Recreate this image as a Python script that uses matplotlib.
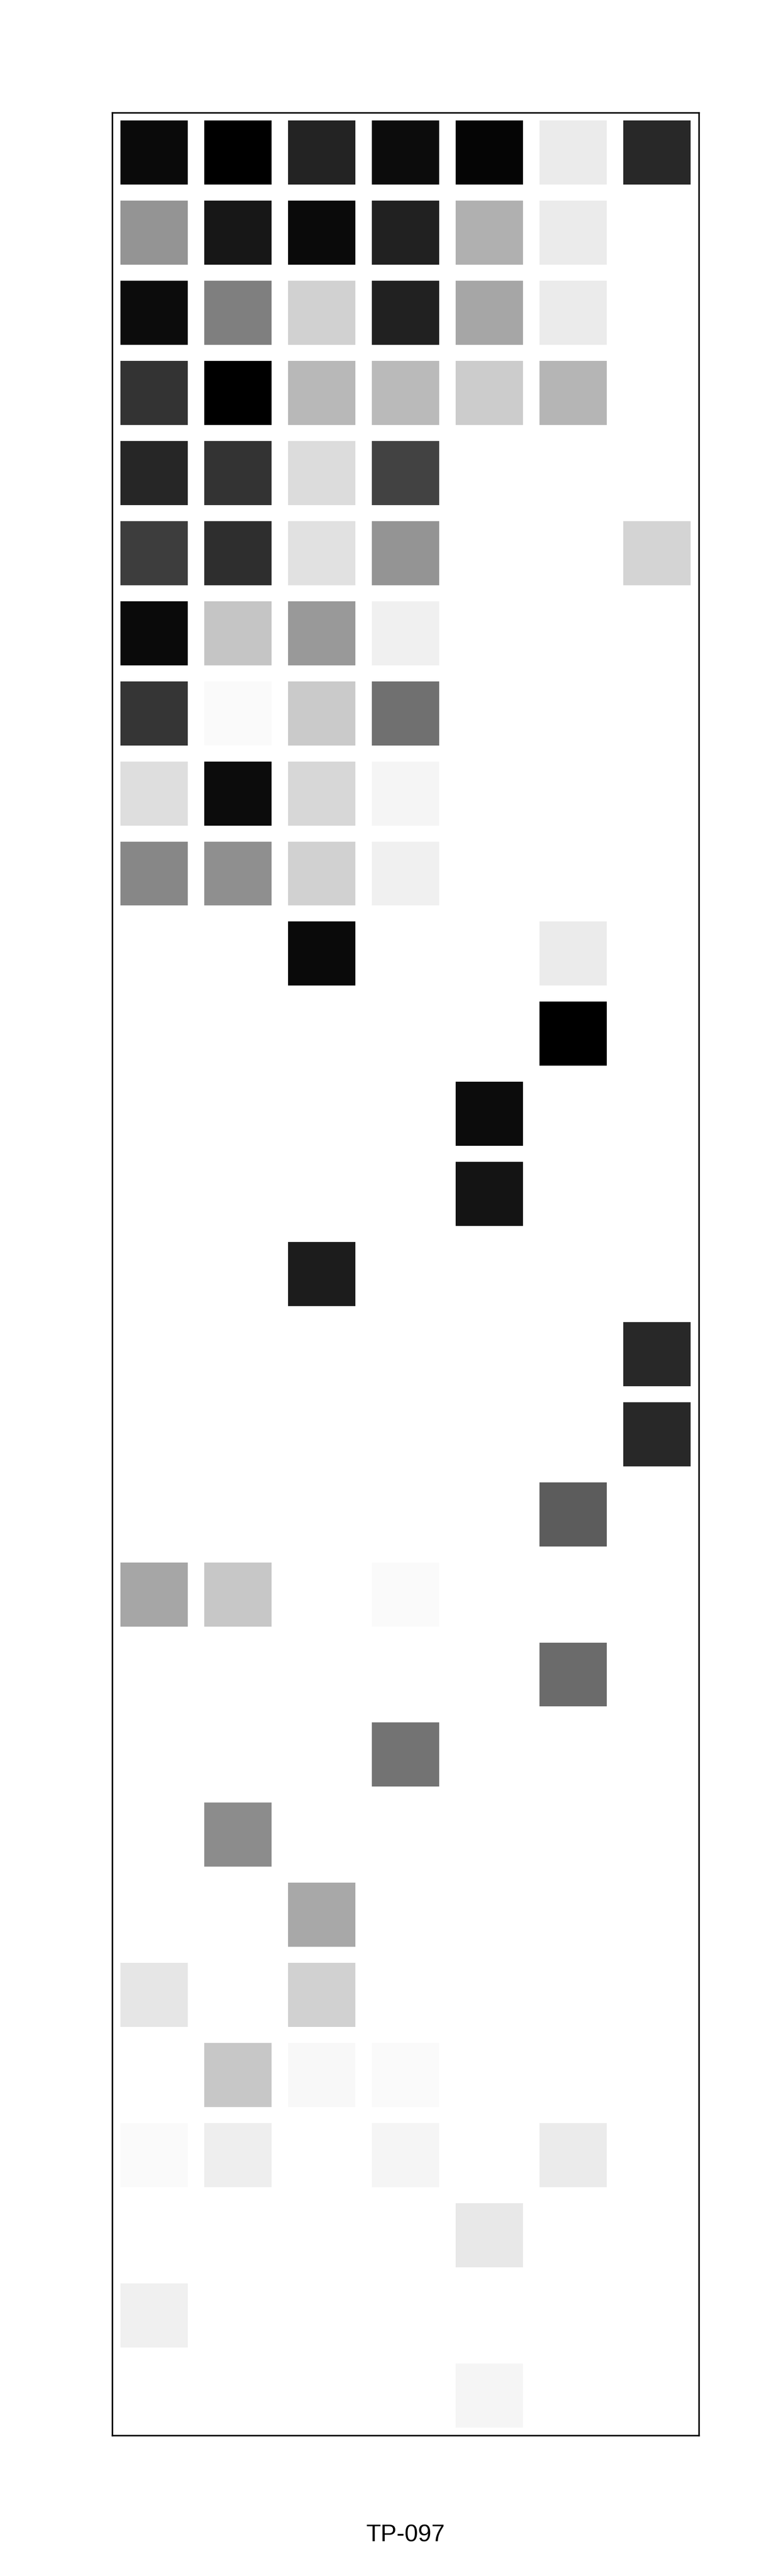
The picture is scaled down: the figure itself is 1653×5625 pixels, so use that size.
import numpy as np
import matplotlib
matplotlib.use("Agg")
import matplotlib.pyplot as plt

plt.rcParams['font.family'] = ['Liberation Sans', 'DejaVu Sans']

# darkness of each cell (0 = white, 1 = black), one list per column, rows top to bottom
col_1 = [.96, .42, .95, .80, .85, .76, .96, .79, .13, .47, 0, 0, 0, 0, 0, 0, 0, 0, .35, 0, 0, 0, 0, .10, 0, .02, 0, .06, 0]
col_2 = [1.0, .91, .50, 1.0, .80, .82, .23, .02, .95, .44, 0, 0, 0, 0, 0, 0, 0, 0, .22, 0, 0, .45, 0, 0, .22, .07, 0, 0, 0]
col_3 = [.86, .96, .18, .28, .14, .12, .40, .21, .16, .18, .96, 0, 0, 0, .89, 0, 0, 0, 0, 0, 0, 0, .34, .18, .03, 0, 0, 0, 0]
col_4 = [.95, .87, .87, .27, .74, .42, .06, .56, .04, .06, 0, 0, 0, 0, 0, 0, 0, 0, .02, 0, .55, 0, 0, 0, .02, .04, 0, 0, 0]
col_5 = [.98, .31, .35, .20, 0, 0, 0, 0, 0, 0, 0, 0, .95, .92, 0, 0, 0, 0, 0, 0, 0, 0, 0, 0, 0, 0, .09, 0, .04]
col_6 = [.08, .08, .08, .29, 0, 0, 0, 0, 0, 0, .08, 1.0, 0, 0, 0, 0, 0, .64, 0, .58, 0, 0, 0, 0, 0, .08, 0, 0, 0]
col_7 = [.84, 0, 0, 0, 0, .17, 0, 0, 0, 0, 0, 0, 0, 0, 0, .84, .84, 0, 0, 0, 0, 0, 0, 0, 0, 0, 0, 0, 0]
columns = [col_1, col_2, col_3, col_4, col_5, col_6, col_7]
label = "TP-097"

fig = plt.figure(figsize=(1653/300, 5625/300), dpi=300)
ax = fig.add_axes([245/1653, 1 - 5318/5625, 1281/1653, 5072/5625])

rows = np.arange(len(col_1))
for j, vals in enumerate(columns):
    ax.bar(np.full(len(rows), j), 0.8, width=0.8, bottom=rows - 0.4,
           color=plt.cm.gray_r(np.array(vals)), linewidth=0)

ax.set_xlim(-0.5, len(columns) - 0.5)
ax.set_ylim(len(rows) - 0.5, -0.5)
ax.set_xticks([])
ax.set_yticks([])
for s in ax.spines.values():
    s.set_linewidth(0.8)
    s.set_color('black')

fig.text(885.5/1653, 1 - 5550/5625, label, ha='center', va='baseline', fontsize=12.6)

fig.savefig("out.png", dpi=300)
